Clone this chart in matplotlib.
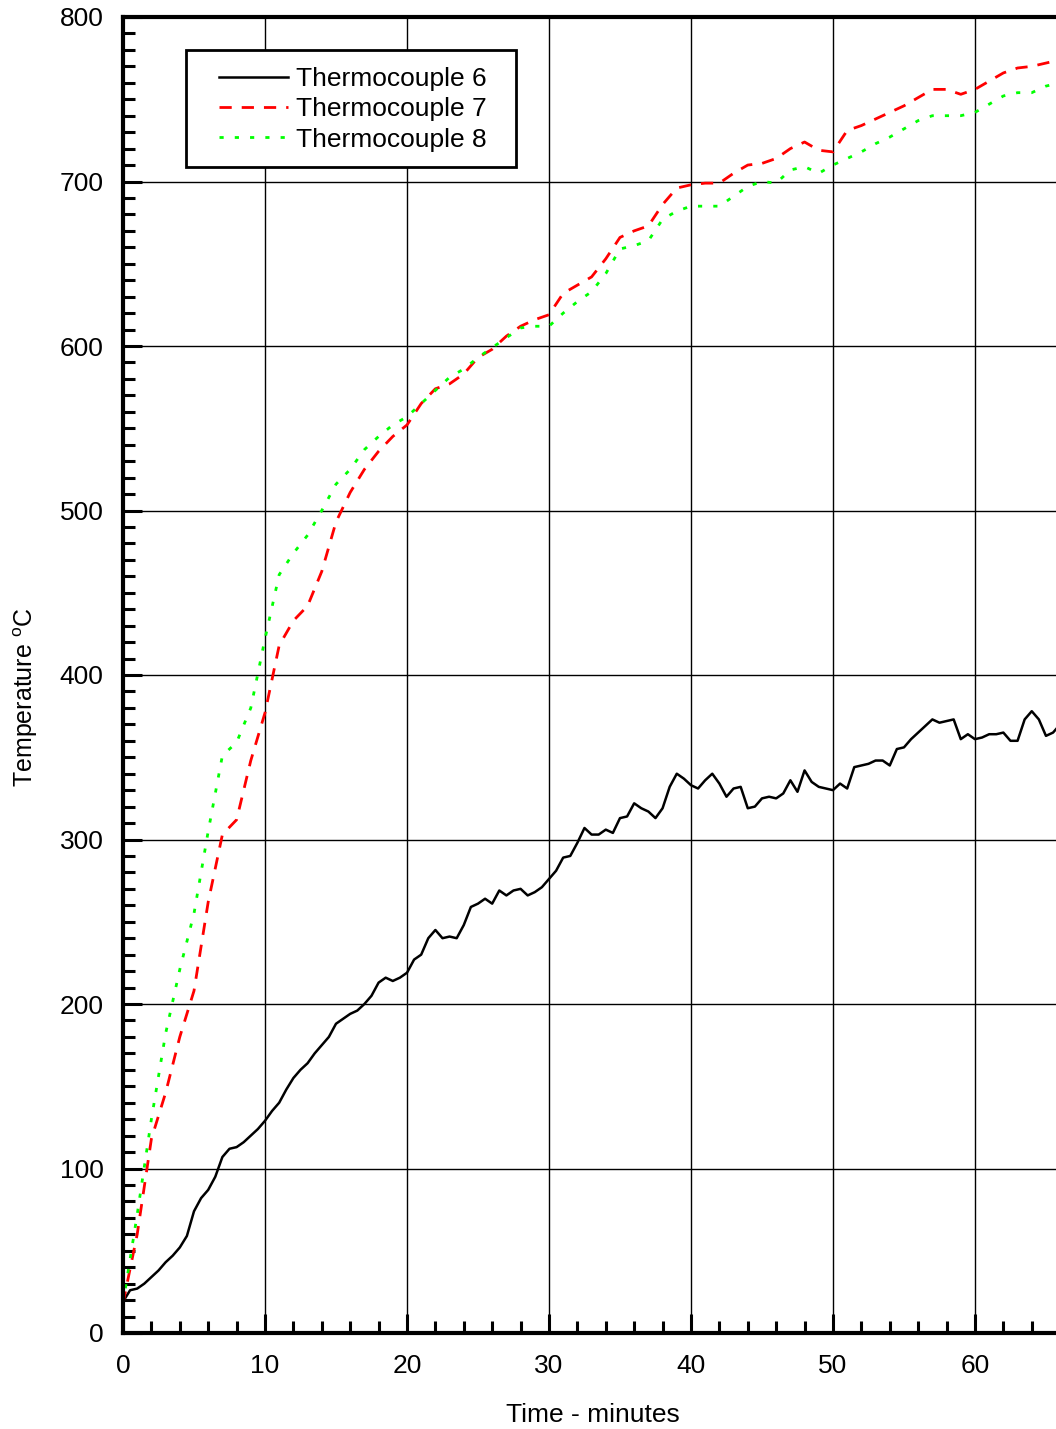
#!/usr/bin/env python3

import numpy as np
import matplotlib
matplotlib.use("Agg")
import matplotlib.pyplot as plt
from matplotlib.patches import Rectangle
from matplotlib.ticker import MultipleLocator, FixedLocator

# ---- Data ----
TIME_TC6 = np.arange(0, 66.01, 0.5)
TC6 = [19, 26, 27, 30, 34, 38, 43, 47, 52, 59,
       74, 82, 87, 95, 107, 112, 113, 116, 120, 124,
       129, 135, 140, 148, 155, 160, 164, 170, 175, 180,
       188, 191, 194, 196, 200, 205, 213, 216, 214, 216,
       219, 227, 230, 240, 245, 240, 241, 240, 248, 259,
       261, 264, 261, 269, 266, 269, 270, 266, 268, 271,
       276, 281, 289, 290, 298, 307, 303, 303, 306, 304,
       313, 314, 322, 319, 317, 313, 319, 332, 340, 337,
       333, 331, 336, 340, 334, 326, 331, 332, 319, 320,
       325, 326, 325, 328, 336, 329, 342, 335, 332, 331,
       330, 334, 331, 344, 345, 346, 348, 348, 345, 355,
       356, 361, 365, 369, 373, 371, 372, 373, 361, 364,
       361, 362, 364, 364, 365, 360, 360, 373, 378, 373,
       363, 365, 370]

TIME_TC78 = np.arange(0, 67, 1)
TC7 = [18, 60, 118, 146, 180, 208, 262, 303, 312, 348,
       377, 418, 433, 442, 463, 493, 511, 525, 536, 545,
       552, 565, 574, 577, 583, 593, 598, 606, 612, 616,
       619, 632, 637, 642, 653, 666, 670, 673, 686, 696,
       698, 699, 699, 705, 710, 711, 714, 720, 724, 719,
       718, 731, 734, 738, 742, 746, 751, 756, 756, 753,
       756, 761, 766, 769, 770, 772, 774]
TC8 = [18, 72, 130, 182, 221, 255, 305, 351, 359, 380,
       422, 461, 474, 485, 500, 516, 525, 537, 545, 552,
       557, 565, 573, 581, 586, 593, 599, 605, 611, 612,
       612, 620, 627, 633, 644, 659, 661, 664, 677, 682,
       685, 685, 685, 691, 697, 700, 699, 707, 709, 705,
       710, 714, 718, 723, 727, 732, 737, 740, 740, 740,
       742, 747, 752, 754, 754, 758, 760]

LABELS = ["Thermocouple 6", "Thermocouple 7", "Thermocouple 8"]
X_TICKS = [0, 10, 20, 30, 40, 50, 60]

# ---- Style ----
plt.rcParams["font.family"] = ["Liberation Sans", "DejaVu Sans"]
plt.rcParams["mathtext.fontset"] = "custom"
plt.rcParams["mathtext.rm"] = "Liberation Sans"

FS = 19
AX_W = 940  # axes width in pixels; right spine sits just past the figure edge
AX_H = 1316

fig = plt.figure(figsize=(10.56, 14.29), dpi=100)
ax = fig.add_axes([123 / 1056, 96 / 1429, AX_W / 1056, AX_H / 1429])

ax.plot(TIME_TC6, TC6, color="black", lw=1.8, label=LABELS[0])
ax.plot(TIME_TC78, TC7, color="#FF0000", lw=2.0, linestyle=(0, (4.4, 3.6)), label=LABELS[1])
ax.plot(TIME_TC78, TC8, color="#00FF00", lw=2.0, linestyle=(0, (1.5, 4)), label=LABELS[2])

ax.set_xlim(0, 66.2)
ax.set_ylim(0, 800)

ax.xaxis.set_major_locator(FixedLocator(X_TICKS))
ax.xaxis.set_minor_locator(MultipleLocator(2))
ax.yaxis.set_major_locator(MultipleLocator(100))
ax.yaxis.set_minor_locator(MultipleLocator(10))

ax.grid(True, which="major", color="black", linewidth=1.0)
ax.set_axisbelow(True)

for side in ["left", "bottom", "top", "right"]:
    ax.spines[side].set_linewidth(3)

ax.tick_params(axis="both", which="major", direction="in", length=14, width=2.2,
               labelsize=FS)
ax.tick_params(axis="both", which="minor", direction="in", length=8.5, width=2.2)
ax.tick_params(axis="x", which="major", pad=15)
ax.tick_params(axis="y", which="major", pad=14)

ax.set_xlabel("Time - minutes", fontsize=FS, labelpad=18)
ax.set_ylabel(r"Temperature $^{\mathrm{o}}$C", fontsize=18)
ax.yaxis.set_label_coords((40 - 123) / AX_W, (1333 - 697) / AX_H)

# legend box drawn separately so the inner padding can match the source
box = Rectangle((63 / AX_W, (1333 - 167) / AX_H), 330 / AX_W, 117 / AX_H,
                transform=ax.transAxes, facecolor="white", edgecolor="black",
                linewidth=2, zorder=5)
ax.add_patch(box)
leg = ax.legend(loc="upper left", bbox_to_anchor=(96 / AX_W, (1333 - 67) / AX_H),
                borderaxespad=0, borderpad=0, fontsize=FS, frameon=False,
                handlelength=2.6, handletextpad=0.3, labelspacing=0.24)
leg.set_zorder(6)

fig.savefig("out.png", dpi=100)
